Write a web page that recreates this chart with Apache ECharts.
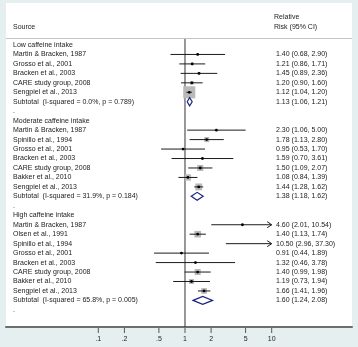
<!DOCTYPE html>
<html><head><meta charset="utf-8">
<script src="https://cdn.jsdelivr.net/npm/echarts@6/dist/echarts.min.js"></script>
<style>html,body{margin:0;padding:0;background:#e6eff0;}#c{width:358px;height:347px;}</style>
</head><body><div id="c"></div>
<script>
// ---------- DATA ----------
const groupTitles = ["Low caffeine intake", "Moderate caffeine intake", "High caffeine intake"];
const subtotalLabels = [
  "Subtotal  (I-squared = 0.0%, p = 0.789)",
  "Subtotal  (I-squared = 31.9%, p = 0.184)",
  "Subtotal  (I-squared = 65.8%, p = 0.005)"
];

const lowStudies = ["Martin & Bracken, 1987", "Grosso et al., 2001", "Bracken et al., 2003", "CARE study group, 2008", "Sengpiel et al., 2013"];
const lowRR = [1.40, 1.21, 1.45, 1.20, 1.12];
const lowLo = [0.68, 0.86, 0.89, 0.90, 1.04];
const lowHi = [2.90, 1.71, 2.36, 1.60, 1.20];
const lowW  = [2, 4, 4, 8, 80];
const lowSub = [1.13, 1.06, 1.21];

const modStudies = ["Martin & Bracken, 1987", "Spinillo et al., 1994", "Grosso et al., 2001", "Bracken et al., 2003", "CARE study group, 2008", "Bakker et al., 2010", "Sengpiel et al., 2013"];
const modRR = [2.30, 1.78, 0.95, 1.59, 1.50, 1.08, 1.44];
const modLo = [1.06, 1.13, 0.53, 0.70, 1.09, 0.84, 1.28];
const modHi = [5.00, 2.80, 1.70, 3.61, 2.07, 1.39, 1.62];
const modW  = [2, 14, 2, 2, 20, 22, 26];
const modSub = [1.38, 1.18, 1.62];

const highStudies = ["Martin & Bracken, 1987", "Olsen et al., 1991", "Spinillo et al., 1994", "Grosso et al., 2001", "Bracken et al., 2003", "CARE study group, 2008", "Bakker et al., 2010", "Sengpiel et al., 2013"];
const highRR = [4.60, 1.40, 10.50, 0.91, 1.32, 1.40, 1.19, 1.66];
const highLo = [2.01, 1.13, 2.96, 0.44, 0.46, 0.99, 0.73, 1.41];
const highHi = [10.54, 1.74, 37.30, 1.89, 3.78, 1.98, 1.94, 1.96];
const highW  = [1, 24, 1, 2, 2, 20, 14, 18];
const highSub = [1.60, 1.24, 2.08];

const tickValues = [0.1, 0.2, 0.5, 1, 2, 5, 10];
const tickLabels = [".1", ".2", ".5", "1", "2", "5", "10"];
const xClip = 10;

// ---------- BUILD ROWS ----------
const groups = [
  [lowStudies, lowRR, lowLo, lowHi, lowW, lowSub],
  [modStudies, modRR, modLo, modHi, modW, modSub],
  [highStudies, highRR, highLo, highHi, highW, highSub]
];
const fmt = v => v.toFixed(2);
const textRows = [];
const studyData = [];
const subData = [];
let r = 0;
groups.forEach((g, gi) => {
  textRows.push({row: r, left: groupTitles[gi], right: ""}); r++;
  g[0].forEach((name, i) => {
    textRows.push({row: r, left: name, right: fmt(g[1][i]) + " (" + fmt(g[2][i]) + ", " + fmt(g[3][i]) + ")"});
    studyData.push([g[1][i], r, g[2][i], g[3][i], g[4][i]]);
    r++;
  });
  const s = g[5];
  textRows.push({row: r, left: subtotalLabels[gi], right: fmt(s[0]) + " (" + fmt(s[1]) + ", " + fmt(s[2]) + ")"});
  subData.push([s[0], r, s[1], s[2]]);
  r++;
  textRows.push({row: r, left: ".", right: ""}); r++;
});

const yMin = -0.634, yMax = 29.81;
const FONT = '"Liberation Sans", Arial, sans-serif';
const TXT = '#222';

const chart = echarts.init(document.getElementById('c'), null, {renderer: 'canvas'});
chart.setOption({
  backgroundColor: '#e6eff0',
  animation: false,
  grid: {left: 6, right: 6, top: 39, bottom: 20},
  xAxis: {
    type: 'log', logBase: 10, position: 'bottom',
    min: Math.pow(10, -2.0646), max: Math.pow(10, 1.9262),
    axisLine: {show: true, onZero: false, lineStyle: {color: '#6e6e6e', width: 2}},
    axisTick: {show: false}, axisLabel: {show: false}, splitLine: {show: false}
  },
  yAxis: {type: 'value', inverse: true, min: yMin, max: yMax, show: false},
  graphic: [
    {type: 'rect', z: -10, shape: {x: 6, y: 3, width: 346, height: 323}, style: {fill: '#ffffff'}},
    {type: 'line', shape: {x1: 6, y1: 38.5, x2: 352, y2: 38.5}, style: {stroke: '#c4c4c4', lineWidth: 1}},
    {type: 'text', x: 13, y: 27, style: {text: 'Source', font: '7px ' + FONT, fill: TXT, verticalAlign: 'middle'}},
    {type: 'text', x: 274, y: 17, style: {text: 'Relative', font: '7px ' + FONT, fill: TXT, verticalAlign: 'middle'}},
    {type: 'text', x: 274, y: 27, style: {text: 'Risk (95% CI)', font: '7px ' + FONT, fill: TXT, verticalAlign: 'middle'}}
  ],
  series: [
    {
      type: 'custom', silent: true, data: [[1, yMin]],
      renderItem: (p, api) => {
        const a = api.coord([1, yMin]), b = api.coord([1, yMax]);
        return {type: 'line', shape: {x1: a[0], y1: a[1], x2: b[0], y2: b[1]}, style: {stroke: '#333', lineWidth: 1}};
      }
    },
    {
      type: 'custom', silent: true, data: studyData,
      encode: {x: 0, y: 1},
      renderItem: (p, api) => {
        const rr = api.value(0), row = api.value(1), lo = api.value(2), hi = api.value(3), w = api.value(4);
        const y = api.coord([1, row])[1];
        const xl = api.coord([lo, row])[0];
        const xh = api.coord([Math.min(hi, xClip), row])[0];
        const ch = [];
        const show = rr <= xClip;
        let xp = 0;
        if (show) {
          const s = 1.35 * Math.sqrt(w);
          xp = api.coord([rr, row])[0];
          ch.push({type: 'rect', shape: {x: xp - s / 2, y: y - s / 2, width: s, height: s}, style: {fill: '#b9b9b9'}});
        }
        ch.push({type: 'line', shape: {x1: xl, y1: y, x2: xh, y2: y}, style: {stroke: '#1c1c1c', lineWidth: 1}});
        if (hi > xClip) {
          ch.push({type: 'polyline', shape: {points: [[xh - 4.5, y - 3], [xh, y], [xh - 4.5, y + 3]]}, style: {stroke: '#1c1c1c', fill: null, lineWidth: 1}});
        }
        if (show) ch.push({type: 'circle', shape: {cx: xp, cy: y, r: 1.4}, style: {fill: '#000'}});
        return {type: 'group', children: ch};
      }
    },
    {
      type: 'custom', silent: true, data: subData,
      encode: {x: 0, y: 1},
      renderItem: (p, api) => {
        const e = api.value(0), row = api.value(1), lo = api.value(2), hi = api.value(3);
        const y = api.coord([1, row])[1];
        const xe = api.coord([e, row])[0], xl = api.coord([lo, row])[0], xh = api.coord([hi, row])[0];
        return {type: 'polygon', shape: {points: [[xl, y], [xe, y - 4], [xh, y], [xe, y + 4]]},
          style: {fill: '#fff', stroke: '#1a237e', lineWidth: 1.2}};
      }
    },
    {
      type: 'custom', silent: true, data: textRows.map(t => [1, t.row]),
      encode: {x: 0, y: 1},
      renderItem: (p, api) => {
        const t = textRows[p.dataIndex];
        const y = api.coord([1, api.value(1)])[1];
        const ch = [{type: 'text', x: 13, y: y, style: {text: t.left, font: '7px ' + FONT, fill: TXT, verticalAlign: 'middle'}}];
        if (t.right) ch.push({type: 'text', x: 276, y: y, style: {text: t.right, font: '7px ' + FONT, fill: TXT, verticalAlign: 'middle'}});
        return {type: 'group', children: ch};
      }
    },
    {
      type: 'custom', silent: true, data: tickValues.map(v => [v, yMax]),
      encode: {x: 0, y: 1},
      renderItem: (p, api) => {
        const c = api.coord([api.value(0), yMax]);
        return {type: 'group', children: [
          {type: 'line', shape: {x1: c[0], y1: c[1] + 1, x2: c[0], y2: c[1] + 6}, style: {stroke: '#555', lineWidth: 1}},
          {type: 'text', x: c[0], y: c[1] + 12, style: {text: tickLabels[p.dataIndex], font: '7px ' + FONT, fill: TXT, align: 'center', verticalAlign: 'middle'}}
        ]};
      }
    }
  ]
});
</script></body></html>
